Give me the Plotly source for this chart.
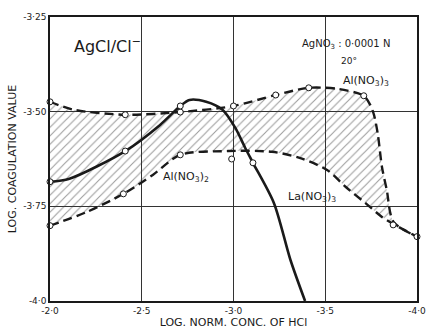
import plotly.graph_objects as go

# ---- data ----
x_tickvals = [-2.0, -2.5, -3.0, -3.5, -4.0]
x_ticktext = ["-2·0", "-2·5", "-3·0", "-3·5", "-4·0"]
y_tickvals = [-3.25, -3.50, -3.75, -4.0]
y_ticktext = ["-3·25", "-3·50", "-3·75", "-4·0"]

# Al(NO3)3 upper boundary (dashed)
al3_x = [-2.0, -2.13, -2.41, -2.71, -3.0, -3.23, -3.41, -3.57, -3.71, -3.745, -3.766, -3.787, -3.809, -3.835, -3.872, -4.0]
al3_y = [-3.474, -3.495, -3.508, -3.501, -3.485, -3.456, -3.437, -3.440, -3.458, -3.482, -3.509, -3.561, -3.646, -3.706, -3.791, -3.830]
al3_px = [-2.0, -2.41, -2.71, -3.0, -3.23, -3.41, -3.71, -3.87, -4.0]
al3_py = [-3.474, -3.508, -3.501, -3.485, -3.456, -3.437, -3.458, -3.799, -3.830]

# Al(NO3)2 lower boundary (dashed)
al2_x = [-2.0, -2.20, -2.40, -2.56, -2.71, -2.97, -3.21, -3.36, -3.51, -3.612, -3.718, -3.809, -3.872, -4.0]
al2_y = [-3.801, -3.765, -3.717, -3.667, -3.614, -3.604, -3.606, -3.622, -3.654, -3.699, -3.741, -3.778, -3.797, -3.830]
al2_px = [-2.0, -2.40, -2.71, -2.99]
al2_py = [-3.801, -3.717, -3.614, -3.625]

# La(NO3)3 (solid)
la_x = [-2.0, -2.106, -2.41, -2.60, -2.71, -2.76, -2.851, -2.94, -3.01, -3.064, -3.106, -3.22, -3.31, -3.39]
la_y = [-3.685, -3.677, -3.604, -3.535, -3.485, -3.469, -3.474, -3.495, -3.543, -3.596, -3.635, -3.741, -3.891, -4.0]
la_px = [-2.0, -2.41, -2.71, -3.106]
la_py = [-3.685, -3.604, -3.485, -3.635]

FONT = "DejaVu Sans"
INK = "#1a1a1a"

fig = go.Figure()

fig.add_trace(go.Scatter(
    x=al2_x, y=al2_y, mode="lines", line=dict(color=INK, width=2.4, dash="9px,5px", shape="spline", smoothing=0.8),
    showlegend=False, hoverinfo="skip"))
fig.add_trace(go.Scatter(
    x=al3_x, y=al3_y, mode="lines", line=dict(color=INK, width=2.4, dash="9px,5px", shape="spline", smoothing=0.8),
    fill="tonexty", fillcolor="rgba(255,255,255,0)",
    fillpattern=dict(shape="/", fgcolor="#3a3a3a", bgcolor="rgba(255,255,255,0)", size=6, solidity=0.18),
    showlegend=False, hoverinfo="skip"))
fig.add_trace(go.Scatter(
    x=la_x, y=la_y, mode="lines", line=dict(color=INK, width=2.6, shape="spline", smoothing=0.8),
    showlegend=False, hoverinfo="skip"))

marker = dict(symbol="circle", size=6, color="white", line=dict(color=INK, width=1))
for mx, my in [(al3_px, al3_py), (al2_px, al2_py), (la_px, la_py)]:
    fig.add_trace(go.Scatter(x=mx, y=my, mode="markers", marker=marker,
                             showlegend=False, hoverinfo="skip", cliponaxis=False))

ann = [
    dict(x=-2.12, y=-3.325, text="AgCl/Cl<sup>−</sup>", size=16, xanchor="left"),
    dict(x=-3.36, y=-3.322, text="AgNO<sub>3</sub> : 0·0001 N", size=10, xanchor="left"),
    dict(x=-3.63, y=-3.365, text="20°", size=9, xanchor="center"),
    dict(x=-3.72, y=-3.418, text="Al(NO<sub>3</sub>)<sub>3</sub>", size=11, xanchor="center"),
    dict(x=-2.74, y=-3.672, text="Al(NO<sub>3</sub>)<sub>2</sub>", size=11, xanchor="center"),
    dict(x=-3.43, y=-3.725, text="La(NO<sub>3</sub>)<sub>3</sub>", size=11, xanchor="center"),
]
for a in ann:
    fig.add_annotation(x=a["x"], y=a["y"], text=a["text"], showarrow=False,
                       xanchor=a["xanchor"], yanchor="middle",
                       font=dict(family=FONT, size=a["size"], color=INK))

fig.update_layout(
    width=434, height=333,
    margin=dict(l=50, r=8, t=17, b=32),
    paper_bgcolor="white", plot_bgcolor="white",
    font=dict(family=FONT, color=INK),
)
fig.update_xaxes(
    range=[-2.0, -4.0], tickvals=x_tickvals, ticktext=x_ticktext,
    showgrid=True, gridcolor="#333", gridwidth=1, zeroline=False,
    showline=True, mirror=True, linecolor=INK, linewidth=1.5,
    ticks="", tickfont=dict(size=9, family=FONT),
    title=dict(text="LOG. NORM. CONC. OF HCl", font=dict(size=11, family=FONT), standoff=2),
)
fig.update_yaxes(
    range=[-4.0, -3.25], tickvals=y_tickvals, ticktext=y_ticktext,
    showgrid=True, gridcolor="#333", gridwidth=1, zeroline=False,
    showline=True, mirror=True, linecolor=INK, linewidth=1.5,
    ticks="", tickfont=dict(size=9, family=FONT),
    title=dict(text="LOG. COAGULATION VALUE", font=dict(size=11, family=FONT), standoff=4),
)

fig.write_html("out.html")
